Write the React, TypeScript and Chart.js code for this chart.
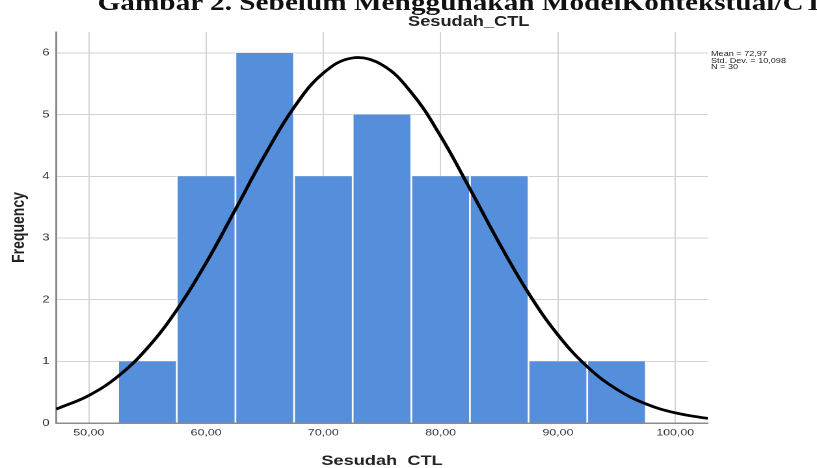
import React, { useEffect, useRef } from "react";
import { Chart, registerables } from "chart.js";

Chart.register(...registerables);

// Histogram bins (centres) and frequencies
const binCenters = [55, 60, 65, 70, 75, 80, 85, 90, 95];
const frequencies = [1, 4, 6, 4, 5, 4, 4, 1, 1];

// Fitted normal curve
const curveX = [47.2, 47.5, 50, 52.5, 55, 57.5, 60, 62.5, 65, 67.5, 70, 72.5, 75, 77.5, 80, 82.5, 85, 87.5, 90, 92.5, 95, 97.5, 100, 102.5, 102.8];
const curveY = [0.228, 0.246, 0.446, 0.759, 1.217, 1.833, 2.597, 3.462, 4.34, 5.118, 5.675, 5.92, 5.808, 5.359, 4.651, 3.796, 2.915, 2.104, 1.429, 0.913, 0.549, 0.31, 0.165, 0.082, 0.076];

const statsLines = ["Mean = 72,97", "Std. Dev. = 10,098", "N = 30"];
const chartTitle = "Sesudah_CTL";
const caption = "Gambar 2. Sebelum Menggunakan ModelKontekstual/CTL";
const xTitle = "Sesudah  CTL";
const yTitle = "Frequency";

const W = 628;
const H = 468;
const SX = 817 / W;
const FONT = "'Liberation Sans', Arial, sans-serif";

export default function App() {
  const ref = useRef<HTMLCanvasElement | null>(null);

  useEffect(() => {
    if (!ref.current) return;
    const chart = new Chart(ref.current, {
      type: "bar",
      data: {
        datasets: [
          {
            type: "line",
            data: curveX.map((x, i) => ({ x, y: curveY[i] })),
            borderColor: "#000000",
            borderWidth: 2.7,
            pointRadius: 0,
            fill: false,
            tension: 0.4,
            order: 0,
          } as any,
          {
            type: "bar",
            data: binCenters.map((x, i) => ({ x, y: frequencies[i] })),
            backgroundColor: "#558fdb",
            borderColor: "#ffffff",
            borderWidth: { left: 1, right: 1, top: 0, bottom: 0 },
            barPercentage: 1,
            categoryPercentage: 1,
            order: 1,
          } as any,
        ],
      },
      options: {
        responsive: false,
        animation: false,
        devicePixelRatio: 2,
        layout: { padding: { left: 0, top: 32, right: W - 708 / SX, bottom: 0 } },
        plugins: { legend: { display: false }, tooltip: { enabled: false }, title: { display: false } },
        scales: {
          x: {
            type: "linear",
            min: 47.2,
            max: 102.8,
            offset: false,
            grid: { color: "#d2d2d2", lineWidth: 1, drawTicks: false, offset: false },
            border: { color: "#8a8a8a", width: 1.5 },
            ticks: {
              stepSize: 10,
              includeBounds: false,
              padding: 4,
              maxRotation: 0,
              color: "#333",
              font: { family: FONT, size: 9.5 },
              callback: (v: any) => Number(v).toFixed(2).replace(".", ","),
            },
            title: {
              display: true,
              text: xTitle,
              color: "#222",
              font: { family: FONT, size: 14, weight: "bold", lineHeight: 1 },
              padding: { top: 0, bottom: 0 },
            },
            afterFit: (s: any) => {
              s.height = H - 423;
            },
          },
          y: {
            min: 0,
            max: 6.34,
            grid: { color: "#d2d2d2", lineWidth: 1, drawTicks: false },
            border: { color: "#8a8a8a", width: 1.5 },
            ticks: {
              stepSize: 1,
              includeBounds: false,
              padding: 5,
              color: "#333",
              font: { family: FONT, size: 10 },
            },
            title: {
              display: true,
              text: yTitle,
              color: "#222",
              font: { family: FONT, size: 14, weight: "bold", lineHeight: 1.2 },
              padding: { top: 6, bottom: 0 },
            },
            afterFit: (s: any) => {
              s.width = 56 / SX;
            },
          },
        },
      } as any,
    });
    return () => chart.destroy();
  }, []);

  return (
    <div style={{ position: "absolute", left: 0, top: 0, width: 817, height: 468, overflow: "hidden", background: "#fff" }}>
      <div
        style={{
          position: "absolute",
          left: 0,
          top: 0,
          width: W,
          height: H,
          transform: `scaleX(${SX})`,
          transformOrigin: "0 0",
        }}
      >
        <canvas ref={ref} width={W} height={H} style={{ position: "absolute", left: 0, top: 0, width: W, height: H }} />
        <div
          style={{
            position: "absolute",
            left: 75,
            top: -8,
            whiteSpace: "nowrap",
            fontFamily: "'Liberation Serif', 'DejaVu Serif', serif",
            fontWeight: "bold",
            fontSize: 22.5,
            lineHeight: "21px",
            color: "#111",
          }}
        >
          {caption}
        </div>
        <div
          style={{
            position: "absolute",
            left: 408 / SX,
            top: 14,
            whiteSpace: "nowrap",
            fontFamily: FONT,
            fontWeight: "bold",
            fontSize: 14,
            lineHeight: "14px",
            color: "#222",
          }}
        >
          {chartTitle}
        </div>
        <div
          style={{
            position: "absolute",
            left: 711 / SX,
            top: 51.2,
            whiteSpace: "nowrap",
            fontFamily: FONT,
            fontSize: 7,
            lineHeight: "6.6px",
            color: "#222",
          }}
        >
          {statsLines.map((t) => (
            <div key={t}>{t}</div>
          ))}
        </div>
      </div>
    </div>
  );
}
